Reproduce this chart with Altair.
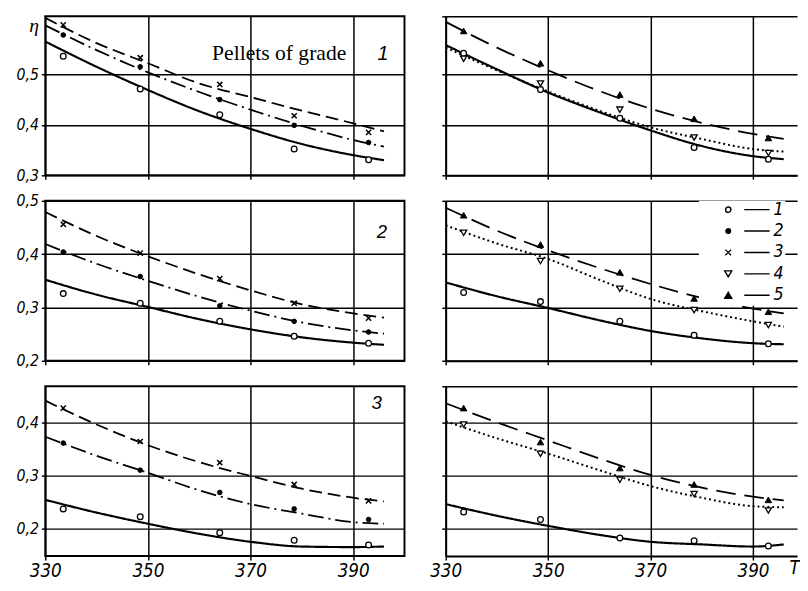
import altair as alt
import pandas as pd

# ---------------- data ----------------
T_POINTS = [333.5, 348.5, 364.0, 378.5, 393.0]
T_CURVE = [330, 340, 350, 360, 370, 380, 390, 396]
LEGEND_LABELS = ["1", "2", "3", "4", "5"]

# grade 1, left (series 1,2,3)
G1L_PTS_1 = [0.536, 0.471, 0.420, 0.352, 0.331]
G1L_PTS_2 = [0.578, 0.515, 0.450, 0.399, 0.365]
G1L_PTS_3 = [0.598, 0.533, 0.480, 0.418, 0.385]
G1L_CUR_1 = [0.565, 0.515, 0.469, 0.427, 0.392, 0.362, 0.340, 0.330]
G1L_CUR_2 = [0.597, 0.548, 0.504, 0.465, 0.430, 0.398, 0.370, 0.357]
G1L_CUR_3 = [0.612, 0.562, 0.522, 0.482, 0.455, 0.428, 0.403, 0.387]
# grade 1, right (series 1,4,5)
G1R_PTS_1 = [0.542, 0.470, 0.413, 0.355, 0.332]
G1R_PTS_4 = [0.531, 0.482, 0.430, 0.375, 0.344]
G1R_PTS_5 = [0.586, 0.522, 0.460, 0.412, 0.374]
G1R_CUR_1 = [0.558, 0.510, 0.464, 0.425, 0.389, 0.358, 0.338, 0.332]
G1R_CUR_4 = [0.553, 0.508, 0.466, 0.428, 0.395, 0.372, 0.352, 0.347]
G1R_CUR_5 = [0.604, 0.553, 0.508, 0.467, 0.432, 0.404, 0.382, 0.372]
# grade 2, left
G2L_PTS_1 = [0.326, 0.308, 0.274, 0.246, 0.233]
G2L_PTS_2 = [0.404, 0.358, 0.303, 0.274, 0.254]
G2L_PTS_3 = [0.456, 0.402, 0.354, 0.308, 0.280]
G2L_CUR_1 = [0.352, 0.324, 0.301, 0.278, 0.259, 0.244, 0.234, 0.230]
G2L_CUR_2 = [0.419, 0.382, 0.350, 0.320, 0.294, 0.272, 0.257, 0.251]
G2L_CUR_3 = [0.479, 0.434, 0.396, 0.362, 0.332, 0.306, 0.289, 0.281]
# grade 2, right
G2R_PTS_1 = [0.328, 0.311, 0.274, 0.248, 0.232]
G2R_PTS_4 = [0.440, 0.387, 0.335, 0.295, 0.267]
G2R_PTS_5 = [0.473, 0.418, 0.366, 0.317, 0.292]
G2R_CUR_1 = [0.347, 0.321, 0.299, 0.276, 0.256, 0.242, 0.233, 0.231]
G2R_CUR_4 = [0.454, 0.420, 0.391, 0.352, 0.316, 0.293, 0.274, 0.264]
G2R_CUR_5 = [0.487, 0.444, 0.407, 0.374, 0.344, 0.318, 0.298, 0.289]
# grade 3, left
G3L_PTS_1 = [0.237, 0.222, 0.192, 0.178, 0.169]
G3L_PTS_2 = [0.361, 0.310, 0.268, 0.237, 0.217]
G3L_PTS_3 = [0.427, 0.364, 0.324, 0.283, 0.252]
G3L_CUR_1 = [0.254, 0.230, 0.209, 0.190, 0.175, 0.166, 0.165, 0.166]
G3L_CUR_2 = [0.373, 0.337, 0.305, 0.272, 0.246, 0.228, 0.212, 0.209]
G3L_CUR_3 = [0.441, 0.396, 0.357, 0.325, 0.299, 0.275, 0.258, 0.251]
# grade 3, right
G3R_PTS_1 = [0.231, 0.217, 0.182, 0.177, 0.167]
G3R_PTS_4 = [0.396, 0.341, 0.292, 0.265, 0.234]
G3R_PTS_5 = [0.427, 0.363, 0.314, 0.283, 0.254]
G3R_CUR_1 = [0.246, 0.224, 0.205, 0.188, 0.175, 0.170, 0.166, 0.170]
G3R_CUR_4 = [0.402, 0.370, 0.341, 0.310, 0.280, 0.258, 0.242, 0.240]
G3R_CUR_5 = [0.436, 0.400, 0.366, 0.332, 0.301, 0.277, 0.260, 0.253]

# ---------------- styles ----------------
NARROW = "Liberation Sans Narrow, DejaVu Sans Condensed, Liberation Sans, sans-serif"
SERIF = "Liberation Serif, DejaVu Serif, serif"
SANS = "Liberation Sans, DejaVu Sans, sans-serif"

DASH = {"1": [1, 0], "2": [16, 5, 2, 5], "3": [13, 6], "4": [2, 3], "5": [20, 9]}
LINE_W = {"1": 2.2, "2": 1.8, "3": 1.8, "4": 2.0, "5": 1.8}
MARK = {
    "1": dict(shape="circle", size=34, fill="white", strokeWidth=1.3),
    "2": dict(shape="circle", size=22, fill="black", strokeWidth=1.0),
    "3": dict(shape="M-1,-1L1,1M-1,1L1,-1", size=28, fill="black", strokeWidth=1.5),
    "4": dict(shape="triangle-down", size=40, fill="white", strokeWidth=1.3),
    "5": dict(shape="triangle-up", size=44, fill="black", strokeWidth=1.0),
}
LEG_LINE = "M0.3,0L1.06,0"
LEGEND_PATHS = [
    "M-1,0M-0.26,0A0.08,0.08 0 1,1 -0.1,0A0.08,0.08 0 1,1 -0.26,0Z" + LEG_LINE,
    "M-1,0M-0.25,0A0.07,0.07 0 1,1 -0.11,0A0.07,0.07 0 1,1 -0.25,0Z" + LEG_LINE,
    "M-1,0M-0.265,-0.085L-0.095,0.085M-0.265,0.085L-0.095,-0.085" + LEG_LINE,
    "M-1,0M-0.285,-0.09L-0.075,-0.09L-0.18,0.09Z" + LEG_LINE,
    "M-1,0M-0.285,0.09L-0.075,0.09L-0.18,-0.09Z" + LEG_LINE,
]
LEGEND_FILLS = ["white", "black", "black", "white", "black"]
LEGEND_STROKES = ["black"] * 5

LABEL_EXPR = "replace(format(datum.value, '.1f'), '.', ',')"


def make_panel(series, curves, points, ydom, yvals, height, left, bottom,
               texts=(), legend=False, ytitle=False, xtitle=False):
    rows = []
    for s, cv, pv in zip(series, curves, points):
        for t, v in zip(T_CURVE, cv):
            rows.append({"T": t, "v": v, "s": s, "kind": "curve"})
        for t, v in zip(T_POINTS, pv):
            rows.append({"T": t, "v": v, "s": s, "kind": "point"})
    df = pd.DataFrame(rows)

    width = 366 if left else 358
    xdom = [330, 400] if left else [330, 398.6]

    xaxis_kw = dict(values=[330, 350, 370, 390], labels=bottom, grid=True,
                    domain=not left, ticks=True, title=None, labelFlush=False)
    if xtitle:
        xaxis_kw.update(title="T", titleX=355, titleY=12, titleAngle=0,
                        titleAlign="center", titleBaseline="middle",
                        titleFont=NARROW, titleFontSize=19, titleFontStyle="italic",
                        titleFontWeight="normal", titleColor="black")
    yaxis_kw = dict(values=yvals, labels=left, grid=True, domain=not left,
                    ticks=True, labelExpr=LABEL_EXPR, title=None, labelFlush=False)
    if ytitle:
        yaxis_kw.update(title="η", titleX=-12, titleY=9, titleAngle=0,
                        titleAlign="center", titleBaseline="middle",
                        titleFont=SERIF, titleFontSize=20, titleFontStyle="italic",
                        titleFontWeight="normal", titleColor="black")

    xenc = alt.X("T:Q", scale=alt.Scale(domain=xdom, nice=False, zero=False),
                 axis=alt.Axis(**xaxis_kw))
    yenc = alt.Y("v:Q", scale=alt.Scale(domain=ydom, nice=False, zero=False),
                 axis=alt.Axis(**yaxis_kw))

    base = alt.Chart(df).encode(x=xenc, y=yenc)
    layers = []
    for s in series:
        layers.append(
            base.transform_filter(f"datum.kind == 'curve' && datum.s == '{s}'")
            .mark_line(color="black", strokeWidth=LINE_W[s], strokeDash=DASH[s],
                       interpolate="monotone", clip=True)
        )
    for s in series:
        layers.append(
            base.transform_filter(f"datum.kind == 'point' && datum.s == '{s}'")
            .mark_point(filled=True, stroke="black", opacity=1, **MARK[s])
        )
    for tx in texts:
        tdf = pd.DataFrame({"T": [tx["T"]], "v": [tx["v"]], "t": [tx["text"]]})
        layers.append(
            alt.Chart(tdf).mark_text(align=tx.get("align", "left"), baseline="alphabetic",
                                     font=tx["font"], fontSize=tx["size"],
                                     fontStyle=tx.get("style", "normal"), color="black")
            .encode(x=xenc, y=yenc, text="t:N")
        )
    if legend:
        leg = alt.Legend(orient="none", legendX=258, legendY=0, title=None,
                         symbolSize=4624, symbolStrokeWidth=1.4,
                         symbolOpacity=1, labelFont=NARROW, labelFontSize=18,
                         labelFontStyle="italic", labelColor="black", labelOffset=5,
                         labelBaseline="middle", clipHeight=16, rowPadding=3.8,
                         padding=1, fillColor="white")
        ldf = pd.DataFrame({"s": LEGEND_LABELS})
        layers.append(
            alt.Chart(ldf).mark_point(filled=True, strokeWidth=1.4, opacity=0)
            .encode(shape=alt.Shape("s:N", scale=alt.Scale(domain=LEGEND_LABELS, range=LEGEND_PATHS), legend=leg),
                    fill=alt.Fill("s:N", scale=alt.Scale(domain=LEGEND_LABELS, range=LEGEND_FILLS), legend=leg),
                    stroke=alt.Stroke("s:N", scale=alt.Scale(domain=LEGEND_LABELS, range=LEGEND_STROKES), legend=leg))
        )
    ch = alt.layer(*layers).properties(width=width, height=height)
    if not left:
        ch = ch.properties(view=alt.ViewBackground(stroke=None))
    return ch


S_LEFT = ["1", "2", "3"]
S_RIGHT = ["1", "4", "5"]

tl = make_panel(S_LEFT, [G1L_CUR_1, G1L_CUR_2, G1L_CUR_3], [G1L_PTS_1, G1L_PTS_2, G1L_PTS_3],
                [0.3, 0.615], [0.3, 0.4, 0.5], 162, True, False, ytitle=True,
                texts=[dict(T=362.5, v=0.529, text="Pellets of grade", font=SERIF, size=22),
                       dict(T=395.8, v=0.529, text="1", font=SANS, size=20, style="italic", align="center")])
tr = make_panel(S_RIGHT, [G1R_CUR_1, G1R_CUR_4, G1R_CUR_5], [G1R_PTS_1, G1R_PTS_4, G1R_PTS_5],
                [0.3, 0.615], [0.3, 0.4, 0.5, 0.615], 162, False, False)
ml = make_panel(S_LEFT, [G2L_CUR_1, G2L_CUR_2, G2L_CUR_3], [G2L_PTS_1, G2L_PTS_2, G2L_PTS_3],
                [0.2, 0.5], [0.2, 0.3, 0.4, 0.5], 163, True, False,
                texts=[dict(T=395.6, v=0.4295, text="2", font=SANS, size=19, style="italic", align="center")])
mr = make_panel(S_RIGHT, [G2R_CUR_1, G2R_CUR_4, G2R_CUR_5], [G2R_PTS_1, G2R_PTS_4, G2R_PTS_5],
                [0.2, 0.5], [0.2, 0.3, 0.4, 0.5], 163, False, False, legend=True)
bl = make_panel(S_LEFT, [G3L_CUR_1, G3L_CUR_2, G3L_CUR_3], [G3L_PTS_1, G3L_PTS_2, G3L_PTS_3],
                [0.148, 0.468], [0.2, 0.3, 0.4], 173, True, True,
                texts=[dict(T=394.6, v=0.426, text="3", font=SANS, size=19, style="italic", align="center")])
br = make_panel(S_RIGHT, [G3R_CUR_1, G3R_CUR_4, G3R_CUR_5], [G3R_PTS_1, G3R_PTS_4, G3R_PTS_5],
                [0.148, 0.468], [0.2, 0.3, 0.4, 0.468], 173, False, True, xtitle=True)

chart = (
    alt.concat(tl, tr, ml, mr, bl, br, columns=2, bounds="flush",
               spacing={"row": 26, "column": 42})
    .resolve_scale(shape="independent", fill="independent", stroke="independent")
    .resolve_legend(shape="independent", fill="independent", stroke="independent")
    .properties(padding={"left": 7, "top": 1, "right": 0, "bottom": 0})
    .configure_view(stroke="black", strokeWidth=2)
    .configure_axis(gridColor="black", gridWidth=1.5, gridOpacity=1, tickColor="black",
                    tickWidth=1.5, tickSize=4, domainColor="black", domainWidth=2,
                    labelColor="black", labelFont=NARROW, labelFontStyle="italic")
    .configure_axisX(labelFontSize=19, labelPadding=2)
    .configure_axisY(labelFontSize=16, labelPadding=3)
)

chart.save("out.html", embed_options={"renderer": "svg", "actions": False})
